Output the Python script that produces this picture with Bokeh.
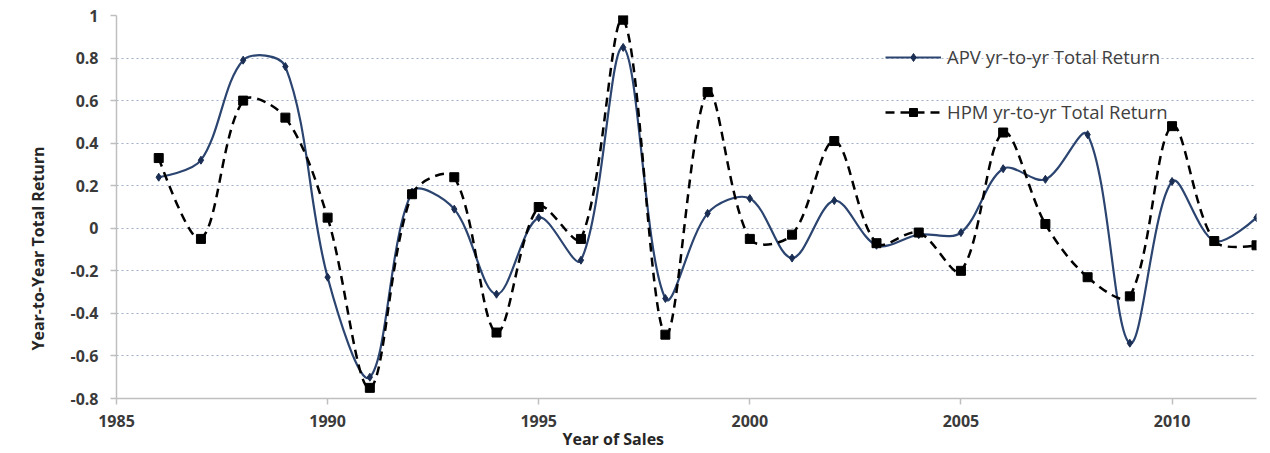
import numpy as np
from bokeh.plotting import figure
from bokeh.models import Range1d, FixedTicker, Legend, LegendItem, Title
from bokeh.embed import file_html
from bokeh.resources import INLINE

years = [1986, 1987, 1988, 1989, 1990, 1991, 1992, 1993, 1994, 1995, 1996, 1997, 1998,
         1999, 2000, 2001, 2002, 2003, 2004, 2005, 2006, 2007, 2008, 2009, 2010, 2011, 2012]
apv = [0.24, 0.32, 0.79, 0.76, -0.23, -0.70, 0.17, 0.09, -0.31, 0.05, -0.15, 0.85, -0.33,
       0.07, 0.14, -0.14, 0.13, -0.08, -0.03, -0.02, 0.28, 0.23, 0.44, -0.54, 0.22, -0.06, 0.05]
hpm = [0.33, -0.05, 0.60, 0.52, 0.05, -0.75, 0.16, 0.24, -0.49, 0.10, -0.05, 0.98, -0.50,
       0.64, -0.05, -0.03, 0.41, -0.07, -0.02, -0.20, 0.45, 0.02, -0.23, -0.32, 0.48, -0.06, -0.08]
x_ticks = [1985, 1990, 1995, 2000, 2005, 2010]
y_ticks = [-0.8, -0.6, -0.4, -0.2, 0, 0.2, 0.4, 0.6, 0.8, 1]
y_tick_labels = ["-0.8", "-0.6", "-0.4", "-0.2", "0", "0.2", "0.4", "0.6", "0.8", "1"]
apv_name = "APV yr-to-yr Total Return"
hpm_name = "HPM yr-to-yr Total Return"
x_title = "Year of Sales"
y_title = "Year-to-Year  Total Return"

X0, X1, Y0, Y1 = 1985, 2012, -0.8, 1.0
FRAME_W, FRAME_H = 1140, 383
SX = FRAME_W / (X1 - X0)   # px per year
SY = FRAME_H / (Y1 - Y0)   # px per unit


def smooth_segments(xs, ys):
    """Excel-like smoothed line: Bezier control points, chord-length scaled."""
    x = np.asarray(xs, dtype=float)
    y = np.asarray(ys, dtype=float)
    n = len(x)
    xp = np.concatenate([[x[0]], x, [x[-1]]])
    yp = np.concatenate([[y[0]], y, [y[-1]]])

    def dist(i, j):
        return np.hypot((xp[i] - xp[j]) * SX, (yp[i] - yp[j]) * SY)

    d = dict(x0=[], y0=[], x1=[], y1=[], cx0=[], cy0=[], cx1=[], cy1=[])
    for i in range(n - 1):
        a, b = i + 1, i + 2
        d01, d12, d23 = dist(a - 1, a), dist(a, b), dist(b, b + 1)
        f1 = d12 / (d01 + d12) / 3.0 if d01 > 0 else 0.0
        f2 = d12 / (d12 + d23) / 3.0 if d23 > 0 else 0.0
        d["x0"].append(xp[a]); d["y0"].append(yp[a])
        d["x1"].append(xp[b]); d["y1"].append(yp[b])
        d["cx0"].append(xp[a] + (xp[b] - xp[a - 1]) * f1)
        d["cy0"].append(yp[a] + (yp[b] - yp[a - 1]) * f1)
        d["cx1"].append(xp[b] - (xp[b + 1] - xp[a]) * f2)
        d["cy1"].append(yp[b] - (yp[b + 1] - yp[a]) * f2)
    return d


FONT = "Open Sans"
APV_COLOR = "#2B4470"
APV_MARK = "#1A2D52"

p = figure(width=1266, height=453, output_backend="svg", toolbar_location=None,
           x_range=Range1d(X0, X1), y_range=Range1d(Y0, Y1),
           min_border_left=116, min_border_right=1266 - 116 - FRAME_W,
           min_border_top=15, min_border_bottom=453 - 15 - FRAME_H)
p.outline_line_color = None
p.background_fill_color = "white"

for ax in (p.xaxis[0], p.yaxis[0]):
    ax.axis_line_color = "#BFBFBF"
    ax.axis_line_width = 1.5
    ax.major_tick_line_color = "#BFBFBF"
    ax.major_tick_line_width = 1.5
    ax.major_tick_out = 6
    ax.major_tick_in = 0
    ax.minor_tick_line_color = None
    ax.major_label_text_font = FONT
    ax.major_label_text_font_style = "bold"
    ax.major_label_text_font_size = "16px"
    ax.major_label_text_color = "#3A3A3A"

p.xaxis.ticker = FixedTicker(ticks=x_ticks)
p.xaxis.major_label_standoff = 10
p.yaxis.ticker = FixedTicker(ticks=y_ticks)
p.yaxis.major_label_overrides = {v: s for v, s in zip(y_ticks, y_tick_labels)}
p.yaxis.major_label_standoff = 12

p.xgrid.grid_line_color = None
p.ygrid.ticker = FixedTicker(ticks=y_ticks[1:])
p.ygrid.grid_line_color = "#9FAFC8"
p.ygrid.grid_line_dash = "2 3"
p.ygrid.grid_line_width = 1.2

apv_seg = smooth_segments(years, apv)
hpm_seg = smooth_segments(years, hpm)
apv_curve = p.bezier(source=apv_seg, x0="x0", y0="y0", x1="x1", y1="y1", cx0="cx0",
                     cy0="cy0", cx1="cx1", cy1="cy1", line_color=APV_COLOR, line_width=2.2)
apv_pts = p.scatter(years, apv, marker="diamond", size=8, color=APV_MARK)
hpm_curve = p.bezier(source=hpm_seg, x0="x0", y0="y0", x1="x1", y1="y1", cx0="cx0",
                     cy0="cy0", cx1="cx1", cy1="cy1", line_color="black", line_width=2.5,
                     line_dash="9 6")
hpm_pts = p.scatter(years, hpm, marker="square", size=9, color="black")

legend = Legend(items=[LegendItem(label=apv_name, renderers=[apv_curve, apv_pts]),
                       LegendItem(label=hpm_name, renderers=[hpm_curve, hpm_pts])],
                location=(769, 274), orientation="vertical", spacing=30,
                glyph_width=56, glyph_height=20, label_standoff=6,
                label_text_font=FONT, label_text_font_size="18.5px",
                label_text_color="#404040", background_fill_alpha=0,
                border_line_color=None, padding=0, margin=0)
p.add_layout(legend, "center")

xt = Title(text=x_title, align="left", offset=446, standoff=-8, text_font=FONT,
           text_font_style="bold", text_font_size="16px", text_color="#262626")
p.add_layout(xt, "below")
yt = Title(text=y_title, align="left", offset=48, standoff=38, text_font=FONT,
           text_font_style="bold", text_font_size="16px", text_color="#262626")
p.add_layout(yt, "left")

open("out.html", "w").write(file_html(p, INLINE))
